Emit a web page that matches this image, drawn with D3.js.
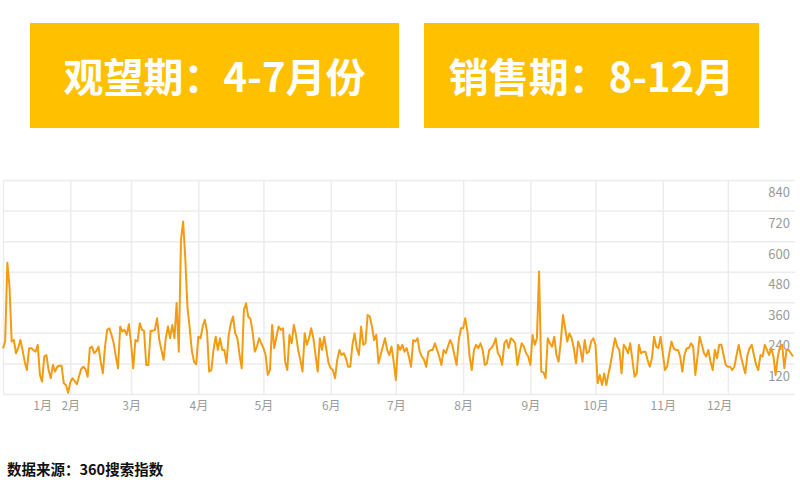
<!DOCTYPE html>
<html><head><meta charset="utf-8">
<script src="https://cdn.jsdelivr.net/npm/d3@7"></script>
<style>
body{margin:0;background:#fff;}
svg{display:block;font-family:"Noto Sans CJK SC","Noto Sans",sans-serif;}
</style></head>
<body><svg id="c" width="800" height="483"></svg>
<script>
// Daily 360 search index, day 0 = 1 Jan
const values = [
179,206,515,420,206,212,160,180,212,173,
127,94,180,180,173,166,193,75,48,147,
153,94,62,114,88,107,111,111,42,35,
5,46,62,51,38,68,98,107,98,68,
180,186,160,169,186,127,81,186,252,258,
232,199,147,101,265,245,252,232,274,199,
101,212,206,278,252,248,114,114,248,248,
252,297,212,173,134,219,265,219,271,219,
357,166,605,677,530,340,260,170,127,116,
225,219,265,291,245,88,94,173,225,173,
219,173,173,121,232,278,304,238,219,153,
101,330,356,304,295,245,166,186,219,199,
180,153,75,94,271,180,225,265,252,258,
127,94,232,199,271,232,173,134,88,238,
193,219,258,219,153,88,219,173,225,173,
121,101,94,62,134,173,153,160,140,107,
107,193,238,180,153,265,193,199,310,304,
265,212,232,121,153,186,219,173,153,186,
127,55,193,173,193,166,180,147,107,212,
206,219,166,147,134,107,166,173,173,199,
173,147,114,173,160,186,212,193,153,114,
212,258,258,297,245,147,94,173,193,180,
199,173,114,121,173,180,193,219,160,147,
114,199,212,180,219,212,199,114,160,199,
186,160,147,114,232,193,219,481,88,85,
62,219,199,186,225,153,127,206,310,258,
206,238,219,180,121,206,180,127,212,160,
166,206,219,193,42,75,35,81,35,81,
121,173,219,186,173,81,193,180,160,199,
134,68,81,193,160,166,166,134,107,140,
225,186,180,225,160,94,107,160,206,180,
173,173,147,88,153,180,180,199,186,75,
147,225,193,160,147,173,127,94,173,140,
193,193,153,114,107,107,94,107,153,193,
147,114,81,153,180,193,153,114,94,153,
147,193,173,153,180,147,75,147,186,193,
101,173,173,160,147
];
const monthStarts = [0,31,59,90,120,151,181,212,243,273,304,334];
const monthLabels = ["1月","2月","3月","4月","5月","6月","7月","8月","9月","10月","11月","12月"];
const labelDays = [18,31,59,90,120,151,181,212,243,273,304,330];
const yTicks = [0,120,240,360,480,600,720,840];
const banners = ["观望期：4-7月份","销售期：8-12月"];
const source = "数据来源：360搜索指数";

const svg = d3.select("#c");
const L = 3, R = 795, T = 180, B = 394;
const x = d3.scaleLinear().domain([0,364]).range([L, 793]);
const y = d3.scaleLinear().domain([0,840]).range([B, T]);

// banners
const bx = [[30,399],[424,759]];
banners.forEach((t,i)=>{
  svg.append("rect").attr("x",bx[i][0]).attr("y",23).attr("width",bx[i][1]-bx[i][0]).attr("height",105).attr("fill","#FFC000");
  svg.append("text").attr("x",(bx[i][0]+bx[i][1])/2).attr("y",75).attr("text-anchor","middle")
    .attr("dominant-baseline","central").attr("fill","#fff").attr("font-weight","bold")
    .attr("font-size",40).text(t);
});

// vertical gridlines
const gx = svg.append("g").attr("transform",`translate(0,${B})`)
  .call(d3.axisBottom(x).tickValues(monthStarts).tickSize(-(B-T)).tickFormat(""));
gx.select(".domain").remove();
gx.selectAll("line").attr("stroke","#ececec").attr("stroke-width",1.5);

// horizontal gridlines + labels
const gy = svg.append("g").attr("transform",`translate(${R},0)`)
  .call(d3.axisLeft(y).tickValues(yTicks).tickSize(R-L));
gy.select(".domain").remove();
gy.selectAll("line").attr("stroke","#ececec").attr("stroke-width",1.5);
gy.selectAll("text").attr("x",-5).attr("dy","1.3em").attr("fill","#9a9a9a")
  .attr("font-size",13).attr("font-family","'Noto Sans CJK SC',sans-serif")
  .filter(d=>d===0).remove();

// month labels
const lx = svg.append("g").attr("transform",`translate(0,${B})`)
  .call(d3.axisBottom(x).tickValues(labelDays).tickSize(0).tickPadding(7)
    .tickFormat((d,i)=>monthLabels[i]));
lx.select(".domain").remove();
lx.selectAll("text").attr("fill","#9a9a9a").attr("font-size",12)
  .attr("font-family","'Noto Sans CJK SC',sans-serif");

// line
const line = d3.line().x((d,i)=>x(i)).y(d=>y(d));
svg.append("path").datum(values).attr("d",line).attr("fill","none")
  .attr("stroke","#F39C12").attr("stroke-width",2).attr("stroke-linejoin","round");

// source
svg.append("text").attr("x",7).attr("y",468).attr("dominant-baseline","central")
  .attr("font-size",14.5).attr("font-weight","bold").attr("fill","#111").text(source);
</script></body></html>
